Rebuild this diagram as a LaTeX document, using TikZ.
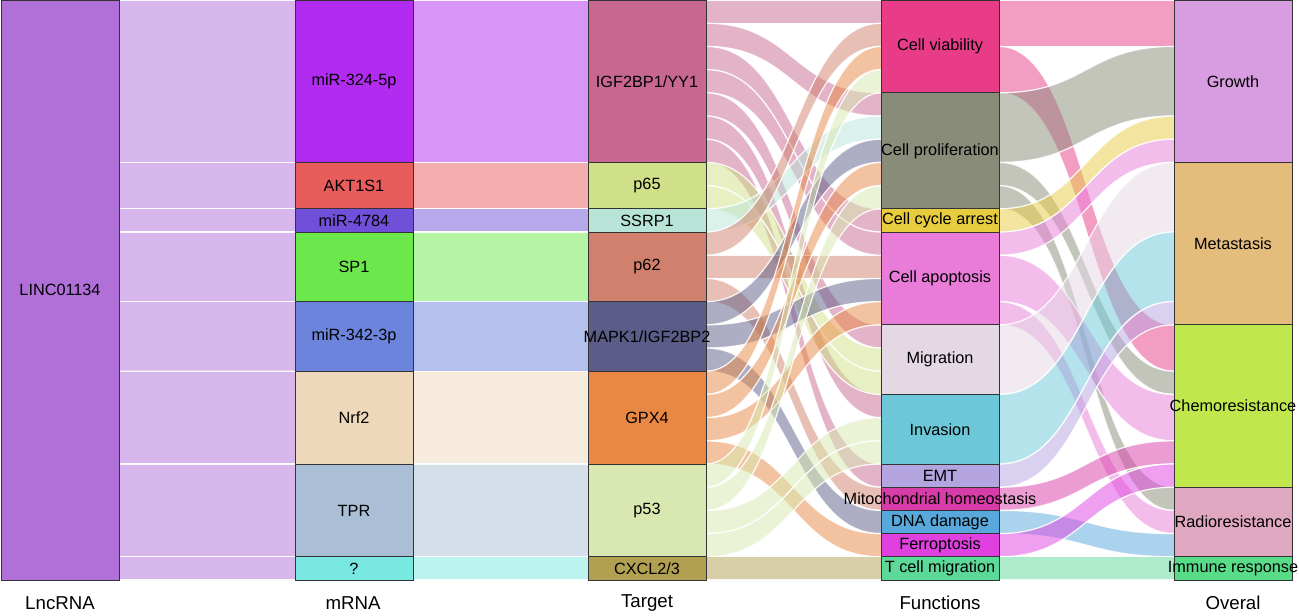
\documentclass[tikz,border=0pt]{standalone}
\usepackage{fontspec}
\setmainfont{Liberation Sans}
\usetikzlibrary{calc,backgrounds}
\definecolor{lncC}{HTML}{B070D8}
\definecolor{mA}{HTML}{B22BF0}
\definecolor{mB}{HTML}{E85C5C}
\definecolor{mC}{HTML}{7050D8}
\definecolor{mD}{HTML}{6CE84C}
\definecolor{mE}{HTML}{6C84DC}
\definecolor{mF}{HTML}{EED8BC}
\definecolor{mG}{HTML}{AABFD6}
\definecolor{mH}{HTML}{78E8E0}
\definecolor{tA}{HTML}{C86890}
\definecolor{tB}{HTML}{D0E088}
\definecolor{tC}{HTML}{B8E4D8}
\definecolor{tD}{HTML}{D0806C}
\definecolor{tE}{HTML}{5C5C88}
\definecolor{tF}{HTML}{E88844}
\definecolor{tG}{HTML}{D8E8B0}
\definecolor{tH}{HTML}{B0A050}
\definecolor{fA}{HTML}{E83C88}
\definecolor{fB}{HTML}{888C78}
\definecolor{fC}{HTML}{E8CC40}
\definecolor{fD}{HTML}{E87CD8}
\definecolor{fE}{HTML}{E4D8E4}
\definecolor{fF}{HTML}{6CC8D8}
\definecolor{fG}{HTML}{B4A4E0}
\definecolor{fH}{HTML}{D83CA8}
\definecolor{fI}{HTML}{58A8DC}
\definecolor{fJ}{HTML}{E040E0}
\definecolor{fK}{HTML}{5CD898}
\definecolor{oA}{HTML}{D89CE0}
\definecolor{oB}{HTML}{E4BC7C}
\definecolor{oC}{HTML}{C0E84C}
\definecolor{oD}{HTML}{E0A8C0}
\definecolor{oE}{HTML}{58DC88}
\newcommand{\U}{23.2}
\newcommand{\lab}{\fontsize{12.2}{14}\selectfont}
\newcommand{\ttl}{\fontsize{14}{16}\selectfont}
\newcommand{\flw}[6]{%
  \coordinate (fa) at ($(#1.north east)+(0,{#2*\U})$);
  \coordinate (fb) at ($(#1.north east)+(0,{(#2+#5)*\U})$);
  \coordinate (fc) at ($(#3.north west)+(0,{#4*\U})$);
  \coordinate (fd) at ($(#3.north west)+(0,{(#4+#5)*\U})$);
  \coordinate (fm) at ($(fa)!0.5!(fc)$);
  \fill[#6, fill opacity=0.5] (fa) .. controls (fm |- fa) and (fm |- fc) .. (fc) -- (fd) .. controls (fm |- fd) and (fm |- fb) .. (fb) -- cycle;
  \draw[flowedge] (fa) .. controls (fm |- fa) and (fm |- fc) .. (fc);
  \draw[flowedge] (fb) .. controls (fm |- fb) and (fm |- fd) .. (fd);
}
\tikzset{
  box/.style={draw=black!80, line width=0.5pt, inner sep=0pt, outer sep=0pt, anchor=north west, minimum width=88.5pt},
  every label/.style={font=\lab, inner sep=0pt, text=black},
  flowedge/.style={white, line width=0.9pt, draw opacity=0.9},
  title/.style={font=\ttl, inner sep=0pt}
}
\begin{document}
\begin{tikzpicture}[x=0.75pt,y=-0.75pt]
\useasboundingbox (0,0) rectangle (1299,615);
% LncRNA
\node[box, fill=lncC, minimum height={25*\U*0.75pt}, label={center:LINC01134}] (lnc) at (1,0) {};
% mRNA
\node[box, fill=mA, minimum height={7*\U*0.75pt}, label={center:miR-324-5p}] (m1) at (295,0) {};
\node[box, fill=mB, minimum height={2*\U*0.75pt}, label={center:AKT1S1}] (m2) at (295,{7*\U}) {};
\node[box, fill=mC, minimum height={1*\U*0.75pt}, label={center:miR-4784}] (m3) at (295,{9*\U}) {};
\node[box, fill=mD, minimum height={3*\U*0.75pt}, label={center:SP1}] (m4) at (295,{10*\U}) {};
\node[box, fill=mE, minimum height={3*\U*0.75pt}, label={center:miR-342-3p}] (m5) at (295,{13*\U}) {};
\node[box, fill=mF, minimum height={4*\U*0.75pt}, label={center:Nrf2}] (m6) at (295,{16*\U}) {};
\node[box, fill=mG, minimum height={4*\U*0.75pt}, label={center:TPR}] (m7) at (295,{20*\U}) {};
\node[box, fill=mH, minimum height={1*\U*0.75pt}, label={center:?}] (m8) at (295,{24*\U}) {};
% Target
\node[box, fill=tA, minimum height={7*\U*0.75pt}, label={center:IGF2BP1/YY1}] (t1) at (588,0) {};
\node[box, fill=tB, minimum height={2*\U*0.75pt}, label={center:p65}] (t2) at (588,{7*\U}) {};
\node[box, fill=tC, minimum height={1*\U*0.75pt}, label={center:SSRP1}] (t3) at (588,{9*\U}) {};
\node[box, fill=tD, minimum height={3*\U*0.75pt}, label={center:p62}] (t4) at (588,{10*\U}) {};
\node[box, fill=tE, minimum height={3*\U*0.75pt}, label={center:MAPK1/IGF2BP2}] (t5) at (588,{13*\U}) {};
\node[box, fill=tF, minimum height={4*\U*0.75pt}, label={center:GPX4}] (t6) at (588,{16*\U}) {};
\node[box, fill=tG, minimum height={4*\U*0.75pt}, label={center:p53}] (t7) at (588,{20*\U}) {};
\node[box, fill=tH, minimum height={1*\U*0.75pt}, label={center:CXCL2/3}] (t8) at (588,{24*\U}) {};
% Functions
\node[box, fill=fA, minimum height={4*\U*0.75pt}, label={center:Cell viability}] (f1) at (881,0) {};
\node[box, fill=fB, minimum height={5*\U*0.75pt}, label={center:Cell proliferation}] (f2) at (881,{4*\U}) {};
\node[box, fill=fC, minimum height={1*\U*0.75pt}, label={center:Cell cycle arrest}] (f3) at (881,{9*\U}) {};
\node[box, fill=fD, minimum height={4*\U*0.75pt}, label={center:Cell apoptosis}] (f4) at (881,{10*\U}) {};
\node[box, fill=fE, minimum height={3*\U*0.75pt}, label={center:Migration}] (f5) at (881,{14*\U}) {};
\node[box, fill=fF, minimum height={3*\U*0.75pt}, label={center:Invasion}] (f6) at (881,{17*\U}) {};
\node[box, fill=fG, minimum height={1*\U*0.75pt}, label={center:EMT}] (f7) at (881,{20*\U}) {};
\node[box, fill=fH, minimum height={1*\U*0.75pt}, label={center:Mitochondrial homeostasis}] (f8) at (881,{21*\U}) {};
\node[box, fill=fI, minimum height={1*\U*0.75pt}, label={center:DNA damage}] (f9) at (881,{22*\U}) {};
\node[box, fill=fJ, minimum height={1*\U*0.75pt}, label={center:Ferroptosis}] (f10) at (881,{23*\U}) {};
\node[box, fill=fK, minimum height={1*\U*0.75pt}, label={center:T cell migration}] (f11) at (881,{24*\U}) {};
% Overal
\node[box, fill=oA, minimum height={7*\U*0.75pt}, label={center:Growth}] (o1) at (1174,0) {};
\node[box, fill=oB, minimum height={7*\U*0.75pt}, label={center:Metastasis}] (o2) at (1174,{7*\U}) {};
\node[box, fill=oC, minimum height={7*\U*0.75pt}, label={center:Chemoresistance}] (o3) at (1174,{14*\U}) {};
\node[box, fill=oD, minimum height={3*\U*0.75pt}, label={center:Radioresistance}] (o4) at (1174,{21*\U}) {};
\node[box, fill=oE, minimum height={1*\U*0.75pt}, label={center:Immune response}] (o5) at (1174,{24*\U}) {};
% titles
\node[title] (h1) at (60,603) {LncRNA};
\node[title] (h2) at (353,603) {mRNA};
\node[title] (h3) at (647,603) {Target};
\node[title] (h4) at (940,603) {Functions};
\node[title] (h5) at (1233,603) {Overal};
\begin{pgfonlayer}{background}
% LncRNA -> mRNA
\flw{lnc}{0}{m1}{0}{7}{lncC}
\flw{lnc}{7}{m2}{0}{2}{lncC}
\flw{lnc}{9}{m3}{0}{1}{lncC}
\flw{lnc}{10}{m4}{0}{3}{lncC}
\flw{lnc}{13}{m5}{0}{3}{lncC}
\flw{lnc}{16}{m6}{0}{4}{lncC}
\flw{lnc}{20}{m7}{0}{4}{lncC}
\flw{lnc}{24}{m8}{0}{1}{lncC}
% mRNA -> Target
\flw{m1}{0}{t1}{0}{7}{mA}
\flw{m2}{0}{t2}{0}{2}{mB}
\flw{m3}{0}{t3}{0}{1}{mC}
\flw{m4}{0}{t4}{0}{3}{mD}
\flw{m5}{0}{t5}{0}{3}{mE}
\flw{m6}{0}{t6}{0}{4}{mF}
\flw{m7}{0}{t7}{0}{4}{mG}
\flw{m8}{0}{t8}{0}{1}{mH}
% Target -> Functions
\flw{t1}{0}{f1}{0}{1}{tA}
\flw{t1}{1}{f2}{0}{1}{tA}
\flw{t1}{2}{f3}{0}{1}{tA}
\flw{t1}{3}{f4}{0}{1}{tA}
\flw{t1}{4}{f5}{0}{1}{tA}
\flw{t1}{5}{f6}{0}{1}{tA}
\flw{t1}{6}{f7}{0}{1}{tA}
\flw{t2}{0}{f5}{1}{1}{tB}
\flw{t2}{1}{f5}{2}{1}{tB}
\flw{t3}{0}{f2}{1}{1}{tC}
\flw{t4}{0}{f1}{1}{1}{tD}
\flw{t4}{1}{f4}{1}{1}{tD}
\flw{t4}{2}{f8}{0}{1}{tD}
\flw{t5}{0}{f2}{2}{1}{tE}
\flw{t5}{1}{f4}{2}{1}{tE}
\flw{t5}{2}{f9}{0}{1}{tE}
\flw{t6}{0}{f1}{2}{1}{tF}
\flw{t6}{1}{f2}{3}{1}{tF}
\flw{t6}{2}{f4}{3}{1}{tF}
\flw{t6}{3}{f10}{0}{1}{tF}
\flw{t7}{0}{f1}{3}{1}{tG}
\flw{t7}{1}{f2}{4}{1}{tG}
\flw{t7}{2}{f6}{1}{1}{tG}
\flw{t7}{3}{f6}{2}{1}{tG}
\flw{t8}{0}{f11}{0}{1}{tH}
% Functions -> Overal
\flw{f1}{0}{o1}{0}{2}{fA}
\flw{f1}{2}{o3}{0}{2}{fA}
\flw{f2}{0}{o1}{2}{3}{fB}
\flw{f2}{3}{o3}{2}{1}{fB}
\flw{f2}{4}{o4}{0}{1}{fB}
\flw{f3}{0}{o1}{5}{1}{fC}
\flw{f4}{0}{o1}{6}{1}{fD}
\flw{f4}{1}{o3}{3}{2}{fD}
\flw{f4}{3}{o4}{1}{1}{fD}
\flw{f5}{0}{o2}{0}{3}{fE}
\flw{f6}{0}{o2}{3}{3}{fF}
\flw{f7}{0}{o2}{6}{1}{fG}
\flw{f8}{0}{o3}{5}{1}{fH}
\flw{f9}{0}{o4}{2}{1}{fI}
\flw{f10}{0}{o3}{6}{1}{fJ}
\flw{f11}{0}{o5}{0}{1}{fK}
\end{pgfonlayer}
\end{tikzpicture}
\end{document}
